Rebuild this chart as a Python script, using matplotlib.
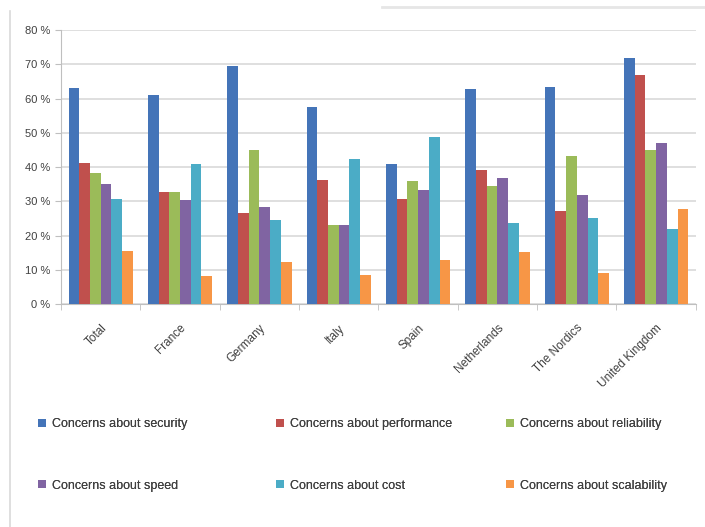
import numpy as np
import matplotlib
matplotlib.use("Agg")
import matplotlib.pyplot as plt
from matplotlib.lines import Line2D

regions = ["Total", "France", "Germany", "Italy", "Spain",
           "Netherlands", "The Nordics", "United Kingdom"]

security    = [63.1, 61.0, 69.5, 57.5, 41.0, 62.7, 63.3, 71.8]
performance = [41.3, 32.7, 26.6, 36.3, 30.6, 39.1, 27.2, 67.0]
reliability = [38.2, 32.7, 44.9, 23.2, 36.0, 34.6, 43.2, 44.9]
speed       = [35.1, 30.5, 28.3, 23.2, 33.3, 36.7, 31.9, 46.9]
cost        = [30.6, 40.8, 24.6, 42.4, 48.9, 23.8, 25.0, 21.9]
scalability = [15.5, 8.1, 12.2, 8.4, 13.0, 15.3, 9.0, 27.9]

series = [security, performance, reliability, speed, cost, scalability]
labels = ["Concerns about security", "Concerns about performance",
          "Concerns about reliability", "Concerns about speed",
          "Concerns about cost", "Concerns about scalability"]
colors = ["#4474B8", "#C0504D", "#9BBB59", "#8064A2", "#4BACC6", "#F79646"]

plt.rcParams['font.family'] = ['Liberation Sans', 'DejaVu Sans']

fig = plt.figure(figsize=(7.05, 5.27), dpi=100)
ax = fig.add_axes([0.0865, 0.423, 0.9005, 0.520])

x = np.arange(len(regions))
w = 0.135
handles = []
for i, (vals, lab, c) in enumerate(zip(series, labels, colors)):
    b = ax.bar(x + (i - 2.5) * w, vals, width=w, color=c, label=lab, zorder=3)
    handles.append(b)

ax.set_xlim(-0.5, len(regions) - 0.5)
ax.set_ylim(0, 80)
ax.set_yticks(np.arange(0, 81, 10))
ax.set_yticklabels([f"{v} %" for v in range(0, 81, 10)])
ax.yaxis.grid(True, color="#D9D9D9", linewidth=1.2, zorder=0)
ax.set_xticks(x)
ax.set_xticklabels(regions, rotation=45, ha="right", rotation_mode="anchor")
ax.set_xticks(np.arange(-0.5, len(regions), 1.0), minor=True)
ax.tick_params(axis="x", which="major", length=0, pad=13, labelsize=8.5, labelcolor="#404040")
ax.tick_params(axis="x", which="minor", length=4, color="#BFBFBF")
ax.tick_params(axis="y", length=4, color="#BFBFBF", labelsize=8, labelcolor="#404040")
for s in ["top", "right"]:
    ax.spines[s].set_visible(False)
for s in ["left", "bottom"]:
    ax.spines[s].set_color("#BFBFBF")

# legend: three columns, placed one by one
col_x = [38 / 705, 276 / 705, 506 / 705]
for k, cx in enumerate(col_x):
    leg = fig.legend([handles[k], handles[k + 3]], [labels[k], labels[k + 3]],
                     loc="center left", bbox_to_anchor=(cx, 1 - 455 / 527),
                     frameon=False, fontsize=9, labelspacing=3.95,
                     borderpad=0, borderaxespad=0,
                     handlelength=0.65, handleheight=0.65, handletextpad=0.5,
                     labelcolor="#404040")
    fig.add_artist(leg)

# chart area border pieces
fig.add_artist(Line2D([0.014, 0.014], [0.0, 0.98], color="#D9D9D9", lw=1.2))
fig.add_artist(Line2D([0.542, 1.0], [0.987, 0.987], color="#E6E6E6", lw=2))

fig.savefig("out.png", dpi=100)
